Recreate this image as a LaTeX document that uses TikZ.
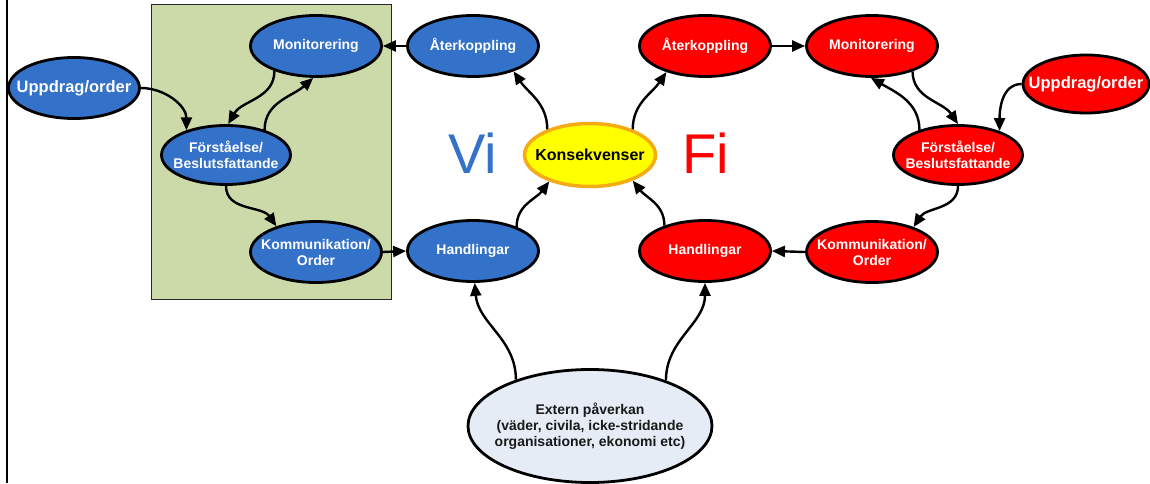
\documentclass[tikz,border=0pt]{standalone}
\usepackage{fontspec}
\setmainfont{Liberation Sans}
\usetikzlibrary{shapes.geometric,arrows.meta}

\definecolor{viblue}{RGB}{51,114,200}
\definecolor{fired}{RGB}{255,0,0}
\definecolor{konsfill}{RGB}{255,255,0}
\definecolor{konsline}{RGB}{245,172,20}
\definecolor{staffgreen}{RGB}{204,218,170}
\definecolor{extfill}{RGB}{230,236,246}

\tikzset{
  oval/.style={ellipse, draw=black, line width=2.8pt, inner xsep=-14pt, inner ysep=0pt,
    minimum width=131pt, minimum height=61pt, align=center,
    font=\bfseries\fontsize{14}{16}\selectfont},
  vinode/.style={oval, fill=viblue, text=white},
  finode/.style={oval, fill=fired, text=white},
  bigtext/.style={font=\bfseries\fontsize{16.5}{19}\selectfont},
  flow/.style={line width=2.4pt, -{Triangle[length=13pt,width=11pt]}},
  sidelabel/.style={font=\fontsize{56}{60}\selectfont, inner sep=0pt}
}

\begin{document}
\begin{tikzpicture}[x=1pt, y=-1pt]
  \useasboundingbox (0,0) rectangle (1150,484);

  % margin rule and staff box
  \draw[line width=1.5pt] (7,0) -- (7,483);
  \draw[fill=staffgreen, draw=black!85, line width=1pt] (151.5,5) rectangle (391,299);

  % own side
  \node[vinode, bigtext] (bu) at (74,88) {Uppdrag/order};
  \node[vinode] (bm) at (316,46) {Monitorering};
  \node[vinode, minimum width=129pt, minimum height=59pt] (bf) at (226,155) {Förståelse/\\Beslutsfattande};
  \node[vinode] (bk) at (316,252) {Kommunikation/\\Order};
  \node[vinode] (ba) at (473,46) {Återkoppling};
  \node[vinode] (bh) at (473,251) {Handlingar};

  % consequences
  \node[oval, bigtext, fill=konsfill, draw=konsline, line width=3.5pt, minimum height=63pt,
        text=black, font=\bfseries\fontsize{16}{19}\selectfont] (kons) at (590,155) {Konsekvenser};

  % opposing side
  \node[finode] (ra) at (705,46) {Återkoppling};
  \node[finode] (rh) at (705,251) {Handlingar};
  \node[finode] (rm) at (872,46) {Monitorering};
  \node[finode, bigtext, minimum width=126pt, minimum height=58pt] (ru) at (1086,84) {Uppdrag/order};
  \node[finode, minimum width=129pt, minimum height=59pt] (rf) at (958,155) {Förståelse/\\Beslutsfattande};
  \node[finode] (rk) at (872,252) {Kommunikation/\\Order};

  % external influence
  \node[oval, fill=extfill, text=black!90, minimum width=244pt, minimum height=113pt] (ext) at (590,426)
    {Extern påverkan\\(väder, civila, icke-stridande\\organisationer, ekonomi etc)};

  % side labels
  \node[sidelabel, text=viblue] (vi) at (473,153) {Vi};
  \node[sidelabel, text=fired] (fi) at (706,153) {Fi};

  % own decision loop
  \draw[flow] (bu.0) to[out=0, in=90] (bf.148);
  \draw[flow] (bm.211) to[out=-90, in=60] (bf.86);
  \draw[flow] (bf.33) to[out=90, in=-138] (bm.-95);
  \draw[flow] (bf.-90) to[out=-90, in=125] (bk.147);
  \draw[flow] (bk.0) -- (bh.180);
  \draw[flow] (ba.180) -- (bm.0);
  \draw[flow] (bh.29) to[out=90, in=-127] (kons.213);
  \draw[flow] (kons.149) to[out=90, in=-56] (ba.-32);

  % opposing decision loop
  \draw[flow] (rh.148) to[out=90, in=-52] (kons.-31);
  \draw[flow] (kons.31) to[out=90, in=-124] (ra.214);
  \draw[flow] (ra.0) -- (rm.180);
  \draw[flow] (rm.-32) to[out=-90, in=124] (rf.90);
  \draw[flow] (rf.147) to[out=90, in=-30] (rm.-92);
  \draw[flow] (ru.180) to[out=180, in=90] (rf.30);
  \draw[flow] (rf.-90) to[out=-90, in=57] (rk.31);
  \draw[flow] (rk.180) -- (rh.0);

  % external influence on both sides
  \draw[flow] (ext.148) to[out=90, in=-85] (bh.-87);
  \draw[flow] (ext.31) to[out=90, in=-90] (rh.-90);
\end{tikzpicture}
\end{document}
